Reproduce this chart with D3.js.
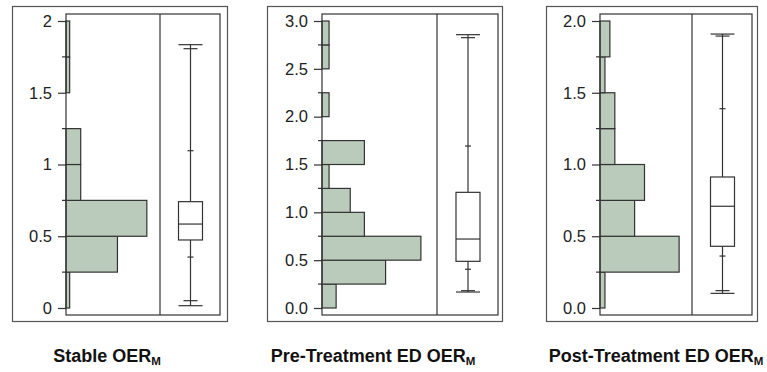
<!DOCTYPE html>
<html>
<head>
<meta charset="utf-8">
<script src="https://cdn.jsdelivr.net/npm/d3@7"></script>
<style>
  body { margin: 0; background: #fff; }
  svg { display: block; font-family: "Liberation Sans", Arial, sans-serif; }
</style>
</head>
<body>
<div id="chart"></div>
<script>
// histogram counts per 0.25-wide bin, starting at 0
const stableCounts = [1, 14, 22, 4, 4, 0, 1, 1];
const preCounts = [2, 9, 14, 6, 4, 1, 6, 0, 1, 0, 1, 1];
const postCounts = [1, 16, 7, 9, 3, 3, 1, 2];
const binWidth = 0.25;

// box plot summaries: outer cap, inner cap, low tick, q1, median, q3, high tick, inner cap, outer cap
const stableBox = [0.016, 0.051, 0.355, 0.474, 0.585, 0.741, 1.096, 1.807, 1.835];
const preBox = [0.167, 0.181, 0.405, 0.488, 0.721, 1.209, 1.693, 2.826, 2.857];
const postBox = [0.102, 0.121, 0.362, 0.430, 0.709, 0.913, 1.389, 1.895, 1.909];

const stableTicks = [0, 0.5, 1, 1.5, 2];
const preTicks = [0, 0.5, 1.0, 1.5, 2.0, 2.5, 3.0];
const postTicks = [0, 0.5, 1.0, 1.5, 2.0];

const titles = ["Stable OER", "Pre-Treatment ED OER", "Post-Treatment ED OER"];
const subscript = "M";

const panels = [
  { counts: stableCounts, box: stableBox, ticks: stableTicks, fmt: d3.format("~g"), title: titles[0],
    outer: [12, 6, 227, 321], left: 66, right: 220, divider: 160, titleX: 107 },
  { counts: preCounts, box: preBox, ticks: preTicks, fmt: d3.format(".1f"), title: titles[1],
    outer: [267, 6, 502, 321], left: 322, right: 498, divider: 437, titleX: 373 },
  { counts: postCounts, box: postBox, ticks: postTicks, fmt: d3.format(".1f"), title: titles[2],
    outer: [546, 6, 757, 321], left: 600, right: 752, divider: 692, titleX: 656 }
];

const plotTop = 14, plotBottom = 315, pad = 7;
const boxW = 24;

const svg = d3.select("#chart").append("svg")
    .attr("width", 767)
    .attr("height", 372);

svg.append("rect").attr("width", 767).attr("height", 372).attr("fill", "#fff");

panels.forEach(p => {
  const g = svg.append("g");
  const yMax = d3.max(p.ticks);

  const y = d3.scaleLinear()
      .domain([0, yMax])
      .range([plotBottom - pad, plotTop + pad]);

  const x = d3.scaleLinear()
      .domain([0, d3.max(p.counts) / 0.86])
      .range([p.left, p.divider]);

  // outer frame
  g.append("rect")
      .attr("x", p.outer[0] + 0.5).attr("y", p.outer[1] + 0.5)
      .attr("width", p.outer[2] - p.outer[0]).attr("height", p.outer[3] - p.outer[1])
      .attr("fill", "none").attr("stroke", "#555").attr("stroke-width", 1.2);

  // histogram bars
  const bins = p.counts.map((c, i) => ({ x0: i * binWidth, x1: (i + 1) * binWidth, count: c }));
  g.selectAll(".bar")
    .data(bins.filter(d => d.count > 0))
    .enter().append("rect")
      .attr("class", "bar")
      .attr("x", x(0))
      .attr("y", d => y(d.x1))
      .attr("width", d => x(d.count) - x(0))
      .attr("height", d => y(d.x0) - y(d.x1))
      .attr("fill", "#bacbbb")
      .attr("stroke", "#333")
      .attr("stroke-width", 1.2);

  // inner plot box and divider
  g.append("rect")
      .attr("x", p.left).attr("y", plotTop)
      .attr("width", p.right - p.left).attr("height", plotBottom - plotTop)
      .attr("fill", "none").attr("stroke", "#333").attr("stroke-width", 1.2);

  g.append("line")
      .attr("x1", p.divider).attr("x2", p.divider)
      .attr("y1", plotTop).attr("y2", plotBottom)
      .attr("stroke", "#333").attr("stroke-width", 1.2);

  // axis: major ticks with labels, minor ticks at bin edges
  const axis = d3.axisLeft(y)
      .tickValues(p.ticks)
      .tickFormat(p.fmt)
      .tickSize(8)
      .tickPadding(6);

  const ax = g.append("g")
      .attr("transform", "translate(" + p.left + ",0)")
      .call(axis);
  ax.select(".domain").remove();
  ax.selectAll(".tick line").attr("stroke", "#333").attr("stroke-width", 1.2);
  ax.selectAll(".tick text")
      .attr("fill", "#222")
      .style("font-size", "16.5px")
      .style("font-family", "'Liberation Sans', Arial, sans-serif");

  const minor = d3.range(binWidth, yMax, binWidth * 2);
  g.selectAll(".minor")
    .data(minor)
    .enter().append("line")
      .attr("x1", p.left - 4).attr("x2", p.left)
      .attr("y1", d => y(d)).attr("y2", d => y(d))
      .attr("stroke", "#333").attr("stroke-width", 1.2);

  // box plot
  const cx = (p.divider + p.right) / 2 + 0.5;
  const b = p.box;
  const bg = g.append("g").attr("stroke", "#333").attr("stroke-width", 1.2);

  bg.append("line")
      .attr("x1", cx).attr("x2", cx)
      .attr("y1", y(b[0])).attr("y2", y(b[8]));

  bg.append("rect")
      .attr("x", cx - boxW / 2).attr("y", y(b[5]))
      .attr("width", boxW).attr("height", y(b[3]) - y(b[5]))
      .attr("fill", "#fff");

  bg.append("line")
      .attr("x1", cx - boxW / 2).attr("x2", cx + boxW / 2)
      .attr("y1", y(b[4])).attr("y2", y(b[4]));

  const marks = [
    { v: b[0], w: boxW }, { v: b[8], w: boxW },
    { v: b[1], w: 14 }, { v: b[7], w: 14 },
    { v: b[2], w: 6 }, { v: b[6], w: 6 }
  ];
  bg.selectAll(".cap")
    .data(marks)
    .enter().append("line")
      .attr("class", "cap")
      .attr("x1", d => cx - d.w / 2).attr("x2", d => cx + d.w / 2)
      .attr("y1", d => y(d.v)).attr("y2", d => y(d.v));

  // title with subscript
  const t = svg.append("text")
      .attr("x", p.titleX)
      .attr("y", 362)
      .attr("text-anchor", "middle")
      .attr("fill", "#111")
      .style("font-weight", "bold")
      .style("font-size", "18px");
  t.append("tspan").text(p.title);
  t.append("tspan").text(subscript)
      .attr("dy", 3)
      .style("font-size", "11.5px");
});
</script>
</body>
</html>
